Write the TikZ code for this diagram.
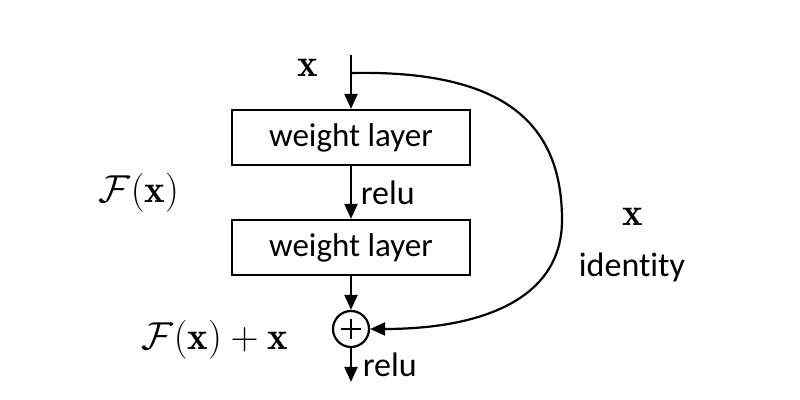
\documentclass[tikz,border=0pt]{standalone}
\usepackage{fix-cm}
\usepackage{amsmath}
\usepackage{fontspec}
\newfontfamily\labelfont[Ligatures=NoCommon]{Carlito}
\usetikzlibrary{positioning,arrows.meta}

\begin{document}
\begin{tikzpicture}[x=1pt,y=1pt,node distance=55pt,line width=1.1pt,
    >={Triangle[length=7.5pt,width=6.5pt]},
    layer/.style={draw, minimum width=119pt, minimum height=27.5pt,
      font=\labelfont\fontsize{16.5}{20}\selectfont},
    lbl/.style={font=\labelfont\fontsize{17}{20}\selectfont},
    mlbl/.style={font=\fontsize{19.5}{23}\selectfont}]
        \useasboundingbox (0,0) rectangle (400,200);
        \coordinate (in) at (175.5,172.5);
        \coordinate (fork) at (175.5,163.5);
        \node (w1) [layer] at (175.5,131.25) {weight layer};
        \node (w2) [layer, below of=w1] {weight layer};
        \node (sum) [draw, circle, minimum size=18pt, inner sep=0pt, below of=w2, node distance=40.75pt] {};
        \coordinate (out) at (175.5,9);
        \draw ([xshift=-5pt]sum.center) -- ([xshift=5pt]sum.center)
              ([yshift=-5pt]sum.center) -- ([yshift=5pt]sum.center);
        \node (xin) [mlbl] at (154,166) {$\mathbf{x}$};
        \node (fx) [mlbl] at (69.5,103.75) {$\mathcal{F}(\mathbf{x})$};
        \node (fxx) [mlbl] at (107.5,30) {$\mathcal{F}(\mathbf{x})+\mathbf{x}$};
        \node (xid) [mlbl] at (316.5,91.5) {$\mathbf{x}$};
        \node (id) [lbl] at (316,66.5) {identity};
        \draw[->] (in) -- (w1);
        \draw[->] (w1) -- node[lbl, right, xshift=1pt]{relu} (w2);
        \draw[->] (w2) -- (sum);
        \draw[->] (sum) -- node[lbl, right, xshift=2pt]{relu} (out);
        \draw[->] (fork) .. controls (250,165) and (281,140) .. (281,90)
                         .. controls (281,50) and (240,35.5) .. (sum.east);
    \end{tikzpicture}
\end{document}
